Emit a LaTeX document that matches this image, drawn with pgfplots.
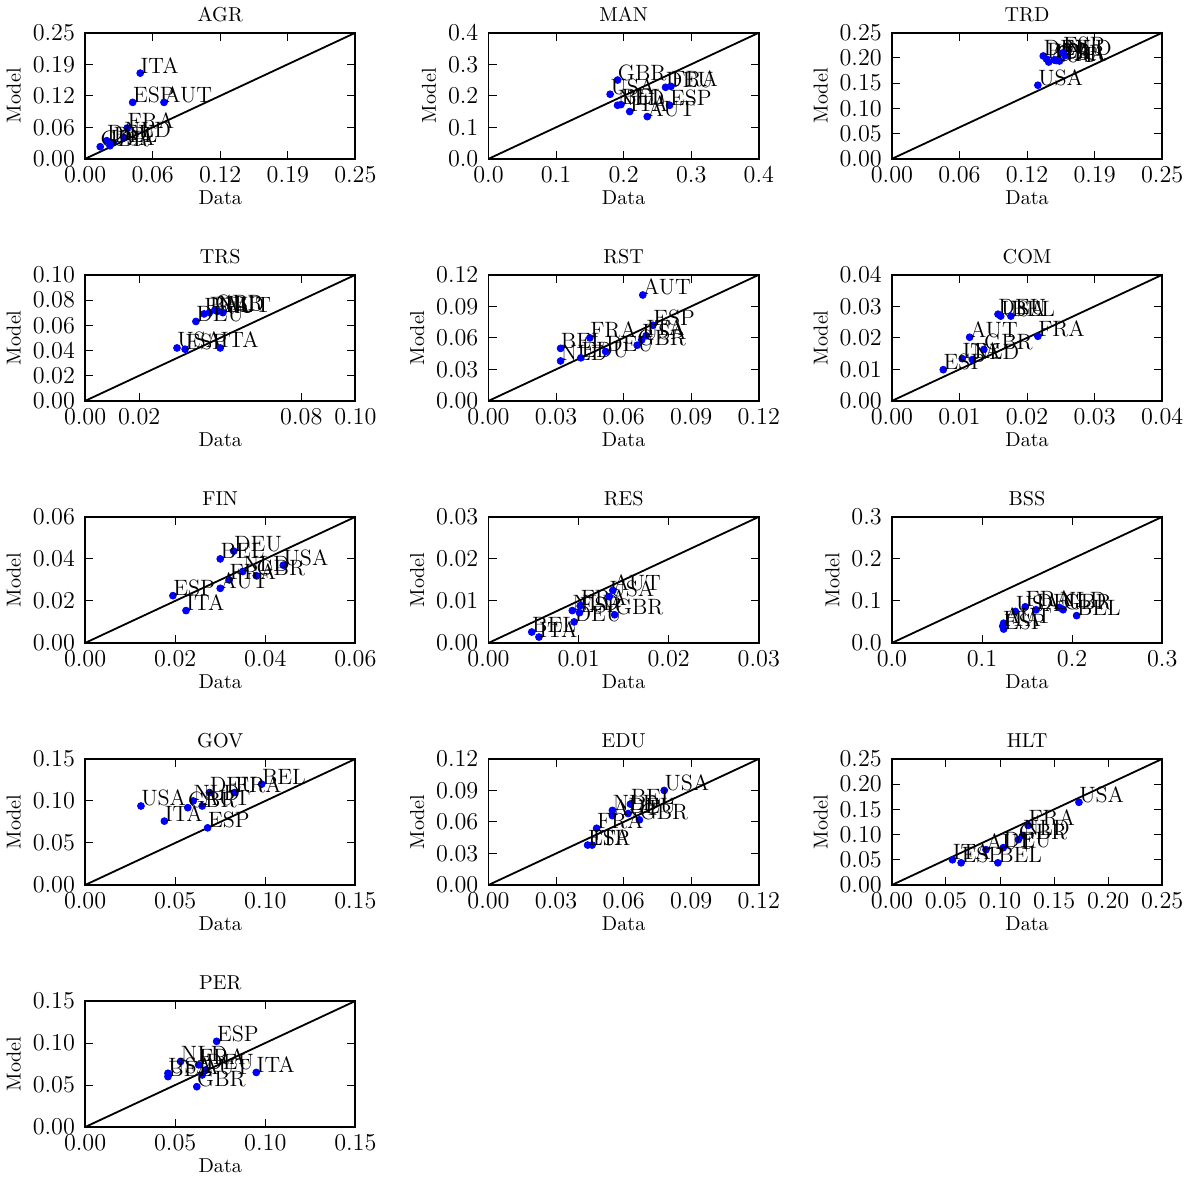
\documentclass[border=0pt]{standalone}
\usepackage{pgfplots}
\pgfplotsset{compat=1.18}
\usepgfplotslibrary{groupplots}
\pgfplotsset{
 myax/.style={scale only axis, width=134pt, height=62.5pt, axis line style={line width=0.9pt},
   scaled ticks=false,
   tick style={black, line width=0.5pt}, major tick length=4pt,
   ticklabel style={font=\fontsize{12}{13}\selectfont},
   yticklabel style={xshift=-1.5pt},
   title style={font=\fontsize{10}{11}\selectfont, yshift=-4pt},
   label style={font=\fontsize{10}{11}\selectfont},
   xlabel={Data}, ylabel={Model}, xlabel style={yshift=3pt}, ylabel style={yshift=-1pt},
   clip=false},
 pts/.style={only marks, mark=*, blue, mark size=1.7pt, mark options={draw=blue, fill=blue},
   point meta=explicit symbolic, nodes near coords,
   every node near coord/.style={anchor=base west, inner sep=0pt, black, font=\fontsize{11}{12}\selectfont}},
}
\newcommand{\diag}[1]{\addplot[black, line width=0.9pt] coordinates {(0,0) (#1,#1)};}
\begin{document}
\begin{tikzpicture}
\begin{groupplot}[group style={group size=3 by 5, horizontal sep=66pt, vertical sep=57.5pt}, myax]
\nextgroupplot[title=AGR, xmin=0,xmax=0.25,ymin=0,ymax=0.25,
 xtick={0,0.0625,0.125,0.1875,0.25}, xticklabels={0.00,0.06,0.12,0.19,0.25},
 ytick={0,0.0625,0.125,0.1875,0.25}, yticklabels={0.00,0.06,0.12,0.19,0.25}]
\diag{0.25}
\addplot[pts] table[meta=l,row sep=\\]{x y l\\0.051 0.170 ITA\\0.044 0.112 ESP\\0.073 0.112 AUT\\0.039 0.061 FRA\\0.036 0.042 NLD\\0.020 0.036 DEU\\0.026 0.032 BEL\\0.014 0.024 GBR\\0.023 0.026 USA\\};
\nextgroupplot[title=MAN, xmin=0,xmax=0.4,ymin=0,ymax=0.4,
 xtick={0,0.1,0.2,0.3,0.4}, xticklabels={0.0,0.1,0.2,0.3,0.4},
 ytick={0,0.1,0.2,0.3,0.4}, yticklabels={0.0,0.1,0.2,0.3,0.4}]
\diag{0.4}
\addplot[pts] table[meta=l,row sep=\\]{x y l\\0.191 0.250 GBR\\0.180 0.205 USA\\0.262 0.227 DEU\\0.270 0.230 FRA\\0.268 0.170 ESP\\0.191 0.170 NLD\\0.196 0.172 BEL\\0.209 0.150 ITA\\0.235 0.134 AUT\\};
\nextgroupplot[title=TRD, xmin=0,xmax=0.25,ymin=0,ymax=0.25,
 xtick={0,0.0625,0.125,0.1875,0.25}, xticklabels={0.00,0.06,0.12,0.19,0.25},
 ytick={0,0.05,0.1,0.15,0.2,0.25}, yticklabels={0.00,0.05,0.10,0.15,0.20,0.25}]
\diag{0.25}
\addplot[pts] table[meta=l,row sep=\\]{x y l\\0.140 0.204 DEU\\0.143 0.198 BEL\\0.145 0.192 AUT\\0.150 0.196 ITA\\0.152 0.195 GBR\\0.155 0.194 FRA\\0.160 0.205 NLD\\0.158 0.210 ESP\\0.135 0.146 USA\\};
\nextgroupplot[title=TRS, xmin=0,xmax=0.1,ymin=0,ymax=0.1,
 xtick={0,0.02,0.08,0.1}, xticklabels={0.00,0.02,0.08,0.10},
 ytick={0,0.02,0.04,0.06,0.08,0.1}, yticklabels={0.00,0.02,0.04,0.06,0.08,0.10}]
\diag{0.1}
\addplot[pts] table[meta=l,row sep=\\]{x y l\\0.044 0.069 FRA\\0.046 0.070 BEL\\0.048 0.072 GBR\\0.049 0.071 NLD\\0.051 0.070 AUT\\0.041 0.063 DEU\\0.034 0.042 USA\\0.037 0.041 ESP\\0.050 0.042 ITA\\};
\nextgroupplot[title=RST, xmin=0,xmax=0.12,ymin=0,ymax=0.12,
 xtick={0,0.03,0.06,0.09,0.12}, xticklabels={0.00,0.03,0.06,0.09,0.12},
 ytick={0,0.03,0.06,0.09,0.12}, yticklabels={0.00,0.03,0.06,0.09,0.12}]
\diag{0.12}
\addplot[pts] table[meta=l,row sep=\\]{x y l\\0.0685 0.1008 AUT\\0.073 0.072 ESP\\0.070 0.062 ITA\\0.068 0.058 USA\\0.066 0.053 GBR\\0.045 0.060 FRA\\0.032 0.050 BEL\\0.032 0.038 NLD\\0.041 0.041 EDU\\0.052 0.047 DEU\\};
\nextgroupplot[title=COM, xmin=0,xmax=0.04,ymin=0,ymax=0.04,
 xtick={0,0.01,0.02,0.03,0.04}, xticklabels={0.00,0.01,0.02,0.03,0.04},
 ytick={0,0.01,0.02,0.03,0.04}, yticklabels={0.00,0.01,0.02,0.03,0.04}]
\diag{0.04}
\addplot[pts] table[meta=l,row sep=\\]{x y l\\0.0157 0.0275 DEU\\0.0161 0.0269 USA\\0.0176 0.0269 BEL\\0.0115 0.0202 AUT\\0.0216 0.0205 FRA\\0.0136 0.0163 GBR\\0.0104 0.0134 ITA\\0.0119 0.0131 NLD\\0.0076 0.0099 ESP\\};
\nextgroupplot[title=FIN, xmin=0,xmax=0.06,ymin=0,ymax=0.06,
 xtick={0,0.02,0.04,0.06}, xticklabels={0.00,0.02,0.04,0.06},
 ytick={0,0.02,0.04,0.06}, yticklabels={0.00,0.02,0.04,0.06}]
\diag{0.06}
\addplot[pts] table[meta=l,row sep=\\]{x y l\\0.033 0.0437 DEU\\0.030 0.040 BEL\\0.044 0.037 USA\\0.035 0.034 NLD\\0.038 0.032 GBR\\0.032 0.030 FRA\\0.030 0.026 AUT\\0.0195 0.0225 ESP\\0.0224 0.0154 ITA\\};
\nextgroupplot[title=RES, xmin=0,xmax=0.03,ymin=0,ymax=0.03,
 xtick={0,0.01,0.02,0.03}, xticklabels={0.00,0.01,0.02,0.03},
 ytick={0,0.01,0.02,0.03}, yticklabels={0.00,0.01,0.02,0.03}]
\diag{0.03}
\addplot[pts] table[meta=l,row sep=\\]{x y l\\0.0048 0.0026 BEL\\0.0056 0.0014 ITA\\0.0095 0.0050 DEU\\0.0101 0.0072 ESP\\0.0093 0.0077 NLD\\0.0102 0.0089 FRA\\0.0134 0.0110 USA\\0.0138 0.0125 AUT\\0.0140 0.0067 GBR\\};
\nextgroupplot[title=BSS, xmin=0,xmax=0.3,ymin=0,ymax=0.3,
 xtick={0,0.1,0.2,0.3}, xticklabels={0.0,0.1,0.2,0.3},
 ytick={0,0.1,0.2,0.3}, yticklabels={0.0,0.1,0.2,0.3}]
\diag{0.3}
\addplot[pts] table[meta=l,row sep=\\]{x y l\\0.148 0.086 FRA\\0.137 0.075 USA\\0.186 0.084 NLD\\0.190 0.079 GBR\\0.205 0.065 BEL\\0.160 0.079 DEU\\0.124 0.047 AUT\\0.123 0.040 ITA\\0.124 0.033 ESP\\};
\nextgroupplot[title=GOV, xmin=0,xmax=0.15,ymin=0,ymax=0.15,
 xtick={0,0.05,0.1,0.15}, xticklabels={0.00,0.05,0.10,0.15},
 ytick={0,0.05,0.1,0.15}, yticklabels={0.00,0.05,0.10,0.15}]
\diag{0.15}
\addplot[pts] table[meta=l,row sep=\\]{x y l\\0.098 0.120 BEL\\0.083 0.110 FRA\\0.069 0.110 DEU\\0.060 0.100 NLD\\0.065 0.094 AUT\\0.068 0.068 ESP\\0.031 0.094 USA\\0.044 0.076 ITA\\0.057 0.092 GBR\\};
\nextgroupplot[title=EDU, xmin=0,xmax=0.12,ymin=0,ymax=0.12,
 xtick={0,0.03,0.06,0.09,0.12}, xticklabels={0.00,0.03,0.06,0.09,0.12},
 ytick={0,0.03,0.06,0.09,0.12}, yticklabels={0.00,0.03,0.06,0.09,0.12}]
\diag{0.12}
\addplot[pts] table[meta=l,row sep=\\]{x y l\\0.078 0.090 USA\\0.063 0.077 BEL\\0.067 0.062 GBR\\0.062 0.068 DEU\\0.055 0.071 NLD\\0.055 0.066 AUT\\0.048 0.054 FRA\\0.046 0.038 ITA\\0.044 0.038 ESP\\};
\nextgroupplot[title=HLT, xmin=0,xmax=0.25,ymin=0,ymax=0.25,
 xtick={0,0.05,0.1,0.15,0.2,0.25}, xticklabels={0.00,0.05,0.10,0.15,0.20,0.25},
 ytick={0,0.05,0.1,0.15,0.2,0.25}, yticklabels={0.00,0.05,0.10,0.15,0.20,0.25}]
\diag{0.25}
\addplot[pts] table[meta=l,row sep=\\]{x y l\\0.173 0.164 USA\\0.126 0.118 FRA\\0.121 0.098 NLD\\0.117 0.090 GBR\\0.103 0.074 DEU\\0.087 0.070 AUT\\0.098 0.044 BEL\\0.056 0.050 ITA\\0.064 0.044 ESP\\};
\nextgroupplot[title=PER, xmin=0,xmax=0.15,ymin=0,ymax=0.15,
 xtick={0,0.05,0.1,0.15}, xticklabels={0.00,0.05,0.10,0.15},
 ytick={0,0.05,0.1,0.15}, yticklabels={0.00,0.05,0.10,0.15}]
\diag{0.15}
\addplot[pts] table[meta=l,row sep=\\]{x y l\\0.073 0.102 ESP\\0.095 0.065 ITA\\0.053 0.078 NLD\\0.063 0.074 FRA\\0.067 0.068 DEU\\0.065 0.062 AUT\\0.046 0.060 BEL\\0.046 0.064 USA\\0.062 0.048 GBR\\};
\end{groupplot}
\end{tikzpicture}
\end{document}
